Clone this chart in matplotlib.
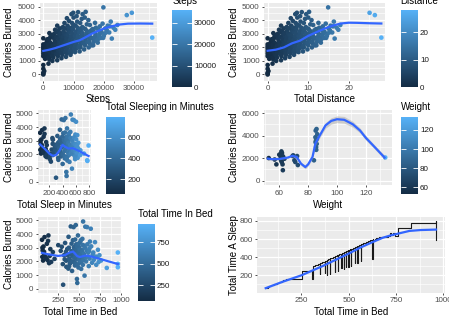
import matplotlib
matplotlib.use("Agg")
import matplotlib.pyplot as plt
from matplotlib.colors import LinearSegmentedColormap
from matplotlib.ticker import FixedLocator
from matplotlib.transforms import Bbox, TransformedBbox

plt.rcParams["font.family"] = ["Liberation Sans", "DejaVu Sans"]

# --- daily activity: steps / distance / calories ---
steps = [0, 0, 0, 300, 0, 0, 0, 0, 0, 0, 0, 0, 0,
         600, 800, 700, 1000, 1200, 900, 1400, 1300,
         1700, 2000, 1800, 2200, 1900, 2300, 2100, 2400, 2000, 2500,
         3000, 3300, 3500, 3100, 3700, 3400, 3800, 3200, 3600, 3900, 4000, 3500,
         4600, 4800, 5100, 4700, 5300, 4900, 5400, 5000, 5200, 5500, 4600, 5200, 5000,
         6000, 6300, 6600, 6100, 6800, 6400, 6900, 6200, 6700, 6500, 7000, 6500, 6300,
         7500, 7800, 8100, 7600, 8300, 7900, 8400, 7700, 8200, 8000, 8500, 7800, 8000,
         9000, 9300, 9600, 9100, 9800, 9400, 9900, 9200, 9700, 9500, 10000, 9300, 9900, 9600,
         10500, 10800, 11100, 10600, 11300, 10900, 11400, 10700, 11200, 11000, 11500, 11000,
         12000, 12300, 12600, 12100, 12800, 12400, 12900, 12200, 12700, 13000,
         13500, 13800, 14100, 13600, 14300, 13900, 14400, 13700, 14000,
         15000, 15300, 15600, 15100, 15800, 15400, 14900,
         16500, 16900, 17200, 16700, 17400, 17100,
         18000, 18400, 18800, 18200, 18700,
         19800, 20200, 20500, 19600, 19870, 21000,
         22000, 22650, 22300, 23200, 24500, 21800, 23800,
         27600, 29270, 36019,
         150, 250, 100, 400, 350,
         650, 1100, 950, 1250, 1500, 1150, 750,
         1650, 2150, 1850, 2450, 2050, 2350, 2600, 2700, 1600,
         2900, 3250, 3550, 3850, 3150, 3650, 3350, 4100, 4200, 4300, 4400, 2800,
         4650, 4950, 5250, 5450, 5050, 5350, 4850, 5700, 5800, 5900, 5650,
         6050, 6350, 6650, 6950, 6150, 6450, 6850, 7200, 7300, 7400, 7100,
         7550, 7850, 8150, 8450, 7650, 8050, 8350, 8700, 8800, 8900, 8600,
         9050, 9350, 9650, 9950, 9150, 9450, 9750, 10200, 10300, 10400, 10100,
         10550, 10850, 11150, 11450, 10650, 11350, 11700, 11800, 11900,
         12050, 12350, 12650, 12950, 12250, 13200, 13300, 13400,
         13550, 13850, 14150, 14450, 14600, 14700,
         15050, 15350, 15650, 15900, 16100, 16300,
         16600, 17000, 17300, 17600,
         18100, 18500, 19000, 19200,
         20000, 20800, 21300]
distance = [0, 0, 0, 0.2, 0, 0, 0, 0, 0, 0, 0, 0, 0,
            0.4, 0.6, 0.5, 0.7, 0.8, 0.6, 1.0, 0.9,
            1.2, 1.4, 1.3, 1.5, 1.3, 1.6, 1.5, 1.7, 1.4, 1.8,
            2.1, 2.3, 2.4, 2.2, 2.6, 2.4, 2.7, 2.2, 2.5, 2.8, 2.9, 2.5,
            3.3, 3.4, 3.6, 3.3, 3.8, 3.5, 3.9, 3.6, 3.7, 4.0, 3.3, 3.8, 3.6,
            4.3, 4.5, 4.7, 4.4, 4.9, 4.6, 5.0, 4.5, 4.8, 4.7, 5.1, 4.6, 4.5,
            5.4, 5.6, 5.8, 5.5, 6.0, 5.7, 6.1, 5.6, 5.9, 5.8, 6.2, 5.7, 5.8,
            6.5, 6.7, 6.9, 6.6, 7.1, 6.8, 7.2, 6.7, 7.0, 6.9, 7.3, 6.8, 7.2, 7.0,
            7.6, 7.8, 8.1, 7.7, 8.2, 7.9, 8.3, 7.8, 8.1, 8.0, 8.4, 8.0,
            8.7, 8.9, 9.2, 8.8, 9.3, 9.0, 9.4, 8.9, 9.2, 9.5,
            9.8, 10.0, 10.3, 9.9, 10.4, 10.1, 10.5, 10.0, 10.2,
            10.9, 11.1, 11.4, 11.0, 11.5, 11.2, 10.8,
            12.0, 12.3, 12.5, 12.2, 12.7, 12.5,
            13.1, 13.4, 13.7, 13.3, 13.6,
            14.4, 14.7, 15.0, 14.3, 14.9, 15.3,
            16.1, 16.5, 16.3, 17.0, 17.9, 15.9, 17.4,
            26.4, 25.1, 28.0,
            0.1, 0.2, 0.1, 0.3, 0.2,
            0.5, 0.8, 0.7, 0.9, 1.1, 0.8, 0.5,
            1.2, 1.6, 1.3, 1.8, 1.5, 1.7, 1.9, 2.0, 1.2,
            2.1, 2.3, 2.6, 2.8, 2.3, 2.6, 2.4, 3.0, 3.1, 3.1, 3.2, 2.0,
            3.4, 3.6, 3.8, 4.0, 3.7, 3.9, 3.5, 4.2, 4.2, 4.3, 4.1,
            4.4, 4.6, 4.8, 5.1, 4.5, 4.7, 5.0, 5.3, 5.3, 5.4, 5.2,
            5.5, 5.7, 5.9, 6.2, 5.6, 5.9, 6.1, 6.4, 6.4, 6.5, 6.3,
            6.6, 6.8, 7.0, 7.3, 6.7, 6.9, 7.1, 7.4, 7.5, 7.6, 7.4,
            7.7, 7.9, 8.1, 8.4, 7.8, 8.3, 8.5, 8.6, 8.7,
            8.8, 9.0, 9.2, 9.5, 8.9, 9.6, 9.7, 9.8,
            9.9, 10.1, 10.3, 10.5, 10.7, 10.7,
            11.0, 11.2, 11.4, 11.6, 11.8, 11.9,
            12.1, 12.4, 12.6, 12.8,
            13.2, 13.5, 13.9, 14.0,
            14.6, 15.2, 15.5]
calories = [0, 60, 130, 250, 420, 700, 1350, 1550, 1720, 1900, 2060, 2220, 2670,
            1150, 1450, 1800, 2000, 2350, 1650, 2600, 1300,
            800, 1100, 1500, 1750, 1950, 2150, 2400, 2800, 3050, 1350,
            1000, 1250, 1550, 1800, 2000, 2250, 2500, 2750, 3000, 3300, 1700, 2100,
            1050, 1350, 1600, 1850, 2050, 2300, 2550, 2800, 3100, 3400, 3600, 1950, 2450,
            1200, 1450, 1700, 1950, 2150, 2400, 2650, 2900, 3200, 3500, 3800, 2050, 2650,
            1300, 1550, 1800, 2000, 2250, 2500, 2750, 3000, 3300, 3600, 3950, 4150, 2150,
            1450, 1650, 1900, 2150, 2350, 2600, 2900, 3200, 3500, 3800, 4200, 4450, 4550, 2250,
            1650, 1900, 2150, 2450, 2700, 3000, 3300, 3600, 3900, 4300, 4600, 2550,
            1700, 2000, 2300, 2600, 2900, 3200, 3500, 3800, 4100, 4450,
            1850, 2150, 2450, 2750, 3050, 3350, 3700, 4200, 4620,
            2000, 2300, 2650, 2950, 3250, 3650, 4010,
            2150, 2550, 2850, 3150, 3450, 3810,
            2350, 2750, 3050, 3300, 3550,
            2700, 3000, 3400, 3750, 4950, 3270,
            3550, 2650, 3900, 3450, 3650, 3100, 3300,
            4380, 4550, 2720,
            1450, 1820, 2000, 1600, 2150,
            1300, 1550, 1900, 2150, 1700, 2500, 2250,
            1250, 1650, 2050, 2300, 2650, 1550, 2000, 2900, 2200,
            1400, 1650, 1950, 2350, 2100, 2650, 2900, 2200, 1500, 2750, 3100, 1850,
            1500, 1750, 2200, 2400, 2650, 2950, 3250, 1800, 2300, 2800, 3050,
            1600, 1850, 2250, 2050, 2550, 2800, 3050, 1650, 2400, 2900, 3400,
            1750, 1900, 2400, 2100, 2650, 2900, 3150, 1700, 2550, 3100, 3450,
            1800, 2050, 2450, 2750, 2800, 3050, 3350, 1900, 2350, 2850, 3650,
            2050, 2300, 2600, 2850, 3150, 3450, 2000, 2450, 3100,
            2150, 2450, 2750, 3050, 3350, 2300, 2650, 3400,
            2300, 2600, 2900, 3200, 2400, 2750,
            2450, 2800, 3100, 2150, 2700, 3350,
            2400, 2700, 3000, 2500,
            2600, 2900, 2700, 3150,
            2850, 3100, 3600]

# loess trends
steps_fit_x = [0, 2000, 4000, 6000, 8000, 10000, 12000, 14000, 16000, 18000,
               20000, 22000, 25000, 28000, 32000, 36019]
steps_fit_y = [1740, 1830, 1950, 2100, 2250, 2400, 2520, 2750, 3000, 3200,
               3380, 3520, 3680, 3750, 3760, 3750]
dist_fit_x = [0, 2, 4, 6, 8, 10, 12, 14, 16, 18, 20, 22, 25, 28]
dist_fit_y = [1750, 1830, 2000, 2300, 2500, 2850, 3120, 3380, 3600, 3760,
              3820, 3810, 3780, 3760]

# --- sleep records: time in bed / minutes asleep / calories ---
bed_minutes = [61, 65, 69, 74, 79, 85, 91, 103, 119, 127,
               137, 145, 152, 170, 190, 210, 254, 283, 296, 308,
               312, 322, 335, 348, 350, 360, 374, 376, 383, 385,
               392, 400, 402, 410, 418, 426, 428, 436, 443, 445,
               452, 460, 462, 467, 474, 476, 480, 486, 488, 493,
               498, 500, 506, 512, 514, 520, 526, 533, 535, 540,
               546, 549, 555, 564, 566, 575, 585, 596, 608, 616,
               624, 626, 630, 640, 655, 662, 675, 690, 705, 717,
               725, 733, 743, 762, 830, 961, 961, 961,
               66, 88, 112, 133, 160,
               330, 345, 365, 380, 395, 405, 412, 422, 432, 440,
               448, 455, 458, 465, 470, 478, 483, 490, 496, 503,
               508, 516, 522, 529, 538, 543, 552, 558, 570, 580,
               590, 600, 612, 620, 645, 670, 700]
sleep_minutes = [58, 61, 65, 71, 77, 82, 88, 99, 111, 119,
                 124, 140, 143, 159, 159, 162, 245, 250, 252, 159,
                 300, 309, 321, 214, 336, 345, 222, 360, 207, 369,
                 376, 214, 386, 393, 401, 233, 411, 418, 251, 427,
                 434, 281, 443, 448, 270, 457, 461, 289, 468, 473,
                 289, 480, 486, 307, 493, 499, 505, 333, 514, 518,
                 333, 526, 533, 362, 543, 552, 562, 572, 584, 591,
                 381, 601, 595, 605, 610, 618, 622, 624, 630, 672,
                 640, 668, 636, 726, 778, 796, 775, 590,
                 63, 84, 105, 125, 150,
                 315, 328, 350, 362, 375, 388, 396, 404, 414, 421,
                 430, 436, 440, 446, 451, 459, 463, 470, 476, 482,
                 488, 495, 500, 507, 516, 521, 530, 536, 547, 556,
                 566, 576, 588, 595, 607, 620, 628]
sleep_calories = [3580, 2330, 2800, 2060, 3090, 2700, 3780, 2310, 3290, 2090,
                  3900, 1870, 2400, 1960, 2680, 2180, 3190, 2770, 3070, 1800,
                  290, 2450, 3350, 2050, 1600, 2900, 1470, 3800, 1650, 2200,
                  1850, 1900, 4560, 2750, 1300, 2350, 3550, 4510, 1950, 2950,
                  1700, 2500, 4660, 3250, 2150, 710, 420, 2700, 3900, 1550,
                  2300, 3050, 1900, 2600, 3400, 2050, 1450, 2850, 2250, 3650,
                  1750, 4920, 2400, 3150, 955, 4540, 2000, 4510, 2650, 1650,
                  2950, 2200, 3450, 4390, 1900, 2500, 2100, 3410, 1750, 2300,
                  2850, 1950, 2450, 2060, 1520, 2650, 1570, 1820,
                  3000, 2500, 2200, 3500, 2900,
                  2150, 2700, 2450, 3000, 2050, 2500, 3300, 2000, 2650, 3050,
                  2250, 3600, 1850, 2850, 2400, 3100, 1750, 2600, 3300, 2150,
                  2850, 2450, 3550, 2000, 2700, 3200, 2100, 2550, 3000, 2300,
                  2800, 3250, 2350, 2750, 3100, 2650, 2350]

asleep_fit_x = [58, 130, 200, 250, 300, 350, 400, 440, 490, 560, 650, 720, 796]
asleep_fit_y = [2720, 2400, 2050, 1900, 1950, 2250, 2700, 2550, 2430, 2450,
                2250, 2070, 1880]
bed_fit_x = [61, 150, 250, 330, 390, 430, 480, 510, 580, 650, 750, 850, 961]
bed_fit_y = [2620, 2500, 2400, 2450, 2650, 2720, 2380, 2320, 2430, 2350,
             2180, 2000, 1810]
bed_sleep_fit_x = [61, 150, 250, 360, 430, 500, 560, 624, 680, 720, 780, 820, 880, 961]
bed_sleep_fit_y = [58, 128, 200, 300, 370, 440, 505, 565, 615, 640, 670, 690, 700, 705]

# --- weight log ---
weight = [52.6, 56.7, 57.9, 59.9, 60.9, 61.0, 61.2, 61.4, 61.5, 61.6, 61.8,
          62.0, 62.2, 62.4, 62.5, 63.5, 69.1, 69.6, 70.4, 71.0, 72.3, 72.8,
          84.0, 85.0, 85.1, 85.2, 85.4, 85.5, 85.6, 85.8, 85.9, 86.0, 86.3, 133.5]
weight_calories = [2000, 1870, 1440, 2300, 2090, 2380, 1800, 2590, 2260, 1650, 2450,
                   1950, 1440, 920, 2150, 1940, 2180, 2240, 1800, 1650, 2180, 1380,
                   1800, 3850, 3410, 4440, 3560, 2970, 2730, 4580, 3260, 3700, 4120, 2050]
weight_fit_x = [52, 55, 60, 66, 69, 72, 75, 78, 80, 83, 85, 88, 92, 96, 100,
                105, 111, 116, 120, 126, 133]
weight_fit_y = [1950, 1900, 1920, 2050, 2200, 2100, 1500, 1200, 1450, 2100, 3300,
                4000, 4900, 5300, 5450, 5400, 5000, 4450, 3800, 3000, 2050]
weight_fit_se = [120, 100, 70, 80, 100, 120, 150, 160, 150, 170, 200,
                 220, 250, 280, 300, 300, 260, 220, 200, 180, 200]

W, H = 449, 321
fig = plt.figure(figsize=(W / 100, H / 100), dpi=100)
cmap = LinearSegmentedColormap.from_list("gg_blue", ["#132B43", "#56B1F7"])
BLUE = "#3366FF"


def box(x0, y0, x1, y1):
    return [x0 / W, 1 - y1 / H, (x1 - x0) / W, (y1 - y0) / H]


def label(x, y, s, **kw):
    kw.setdefault("fontsize", 7)
    return fig.text(x / W, 1 - y / H, s, **kw)


def panel(rect, xlim, ylim, xmaj, xmin, ymaj, ymin):
    ax = fig.add_axes(box(*rect))
    ax.set_facecolor("#EBEBEB")
    for sp in ax.spines.values():
        sp.set_visible(False)
    ax.set_xlim(xlim)
    ax.set_ylim(ylim)
    ax.xaxis.set_major_locator(FixedLocator(xmaj))
    ax.xaxis.set_minor_locator(FixedLocator(xmin))
    ax.yaxis.set_major_locator(FixedLocator(ymaj))
    ax.yaxis.set_minor_locator(FixedLocator(ymin))
    ax.grid(which="major", color="white", lw=0.9)
    ax.grid(which="minor", color="white", lw=0.45)
    ax.set_axisbelow(True)
    ax.tick_params(which="major", length=1.75, width=0.6, color="#333333",
                   labelsize=5.8, labelcolor="#4D4D4D", pad=1.4)
    ax.tick_params(which="minor", length=0)
    return ax


def colourbar(sc, rect, ticks, title, tx, ty):
    cax = fig.add_axes(box(*rect))
    cb = fig.colorbar(sc, cax=cax, ticks=ticks)
    cb.outline.set_visible(False)
    cax.tick_params(which="major", direction="in", length=3.5, width=0.6,
                    color="white", left=True, right=True, labelleft=False,
                    labelright=True, labelsize=5.8, labelcolor="#1A1A1A", pad=1.8)
    cax.tick_params(which="minor", length=0)
    label(tx, ty, title, va="baseline", ha="left")


def dots(ax, x, y, c, vmin, vmax):
    return ax.scatter(x, y, c=c, cmap=cmap, vmin=vmin, vmax=vmax, s=11,
                      linewidths=0, zorder=2)


cal_ticks = [0, 1000, 2000, 3000, 4000, 5000]
cal_minor = [500, 1500, 2500, 3500, 4500]

# steps vs calories
ax1 = panel((40, 2.7, 157, 81), (-1100, 37600), (-480, 5295),
            [0, 10000, 20000, 30000], [5000, 15000, 25000, 35000],
            cal_ticks, cal_minor)
sc1 = dots(ax1, steps, calories, steps, 0, 36019)
ax1.plot(steps_fit_x, steps_fit_y, color=BLUE, lw=1.6, zorder=3)
colourbar(sc1, (172.3, 10, 191.5, 87.3), [0, 10000, 20000, 30000], "Steps", 172.3, 3.5)

# distance vs calories
ax2 = panel((264, 2.7, 385, 81), (-0.9, 28.9), (-480, 5295),
            [0, 10, 20], [5, 15, 25], cal_ticks, cal_minor)
sc2 = dots(ax2, distance, calories, distance, 0, 28.03)
ax2.plot(dist_fit_x, dist_fit_y, color=BLUE, lw=1.6, zorder=3)
colourbar(sc2, (400.7, 10, 417.5, 87.3), [0, 10, 20], "Distance", 400.7, 3.5)

# minutes asleep vs calories
ax3 = panel((37.7, 110, 91, 185.3), (21, 833), (-265, 5250),
            [200, 400, 600, 800], [100, 300, 500, 700], cal_ticks, cal_minor)
sc3 = dots(ax3, sleep_minutes, sleep_calories, sleep_minutes, 58, 796)
ax3.plot(asleep_fit_x, asleep_fit_y, color=BLUE, lw=1.6, zorder=3)
colourbar(sc3, (105.7, 117, 125, 194.3), [200, 400, 600],
          "Total Sleeping in Minutes", 105.7, 110)

# weight vs calories
ax4 = panel((264, 110, 391.7, 185.3), (49.3, 138), (-420, 6270),
            [60, 80, 100, 120], [50, 70, 90, 110, 130],
            [0, 2000, 4000, 6000], [1000, 3000, 5000])
sc4 = dots(ax4, weight, weight_calories, weight, 52.6, 133.5)
lo = [y - e for y, e in zip(weight_fit_y, weight_fit_se)]
hi = [y + e for y, e in zip(weight_fit_y, weight_fit_se)]
ax4.fill_between(weight_fit_x, lo, hi, color="#999999", alpha=0.4, lw=0, zorder=2.5)
ax4.plot(weight_fit_x, weight_fit_y, color=BLUE, lw=1.6, zorder=3)
colourbar(sc4, (400.7, 117, 417.5, 194.3), [60, 80, 100, 120], "Weight", 400.7, 110)

# time in bed vs calories
ax5 = panel((37.7, 217, 121.7, 292.5), (10, 1007), (-280, 5250),
            [250, 500, 750, 1000], [125, 375, 625, 875], cal_ticks, cal_minor)
sc5 = dots(ax5, bed_minutes, sleep_calories, bed_minutes, 61, 961)
ax5.plot(bed_fit_x, bed_fit_y, color=BLUE, lw=1.6, zorder=3)
colourbar(sc5, (137.7, 224, 154.5, 301.3), [250, 500, 750],
          "Total Time In Bed", 137.7, 217)

# time in bed vs minutes asleep, as a step trace ordered by time in bed
ax6 = panel((257, 217, 444.5, 292.5), (15, 1006), (10, 844),
            [250, 500, 750, 1000], [125, 375, 625, 875],
            [200, 400, 600, 800], [100, 300, 500, 700])
order = sorted(range(len(bed_minutes)), key=lambda i: bed_minutes[i])
ax6.step([bed_minutes[i] for i in order], [sleep_minutes[i] for i in order],
         where="post", color="#1A1A1A", lw=0.8, zorder=2)
ax6.plot(bed_sleep_fit_x, bed_sleep_fit_y, color=BLUE, lw=1.6, zorder=3)

# axis titles
steps_lab = label(98.5, 101.5, "Steps", ha="center", va="baseline")
steps_lab.set_clip_box(TransformedBbox(Bbox.from_extents(0, 1 - 102 / H, 1, 1),
                                       fig.transFigure))
steps_lab.set_clip_on(True)
label(324.5, 101.5, "Total Distance", ha="center", va="baseline")
label(64.4, 208, "Total Sleep in Minutes", ha="center", va="baseline")
label(327.9, 208, "Weight", ha="center", va="baseline")
label(79.7, 315, "Total Time in Bed", ha="center", va="baseline")
label(350.7, 315, "Total Time in Bed", ha="center", va="baseline")

for x, y, s in [(9, 42, "Calories Burned"), (234, 42, "Calories Burned"),
                (9, 147.6, "Calories Burned"), (234, 147.6, "Calories Burned"),
                (9, 254.7, "Calories Burned"), (234, 254.7, "Total Time A Sleep")]:
    label(x, y, s, rotation=90, ha="center", va="center")

fig.savefig("out.png", dpi=100)
plt.close(fig)
